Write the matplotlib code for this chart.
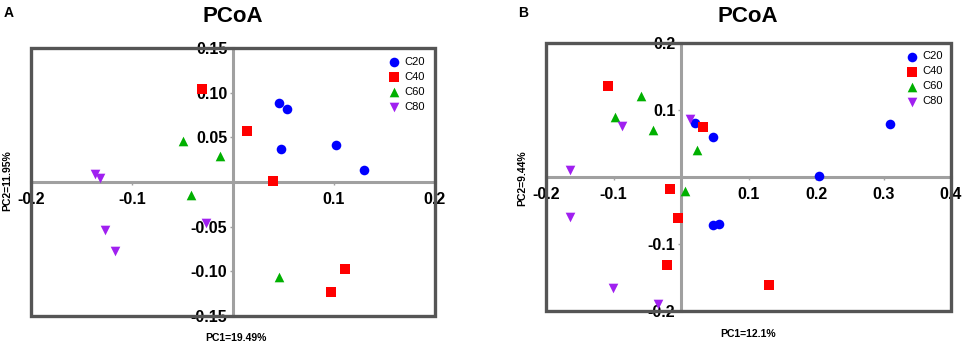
import matplotlib
matplotlib.use("Agg")
import matplotlib.pyplot as plt
from matplotlib.patches import Rectangle

plt.rcParams['font.family'] = ['Liberation Sans', 'DejaVu Sans']
plt.rcParams['axes.unicode_minus'] = False

# Groups and styles
groups = ['C20', 'C40', 'C60', 'C80']
group_colors = ['#0000FF', '#FF0000', '#00B000', '#A020F0']
group_markers = ['o', 's', '^', 'v']

# Panel A (PC1=19.49%, PC2=11.95%)
a_c20_x = [0.046, 0.053, 0.048, 0.102, 0.130]
a_c20_y = [0.088, 0.082, 0.037, 0.041, 0.013]
a_c40_x = [-0.031, 0.014, 0.040, 0.111, 0.097]
a_c40_y = [0.104, 0.057, 0.001, -0.097, -0.123]
a_c60_x = [-0.050, -0.013, -0.042, 0.046]
a_c60_y = [0.046, 0.029, -0.015, -0.106]
a_c80_x = [-0.137, -0.132, -0.027, -0.127, -0.117]
a_c80_y = [0.009, 0.005, -0.046, -0.054, -0.077]
a_xticks = [-0.2, -0.1, 0.1, 0.2]
a_yticks = [0.15, 0.10, 0.05, -0.05, -0.10, -0.15]

# Panel B (PC1=12.1%, PC2=9.44%)
b_c20_x = [0.021, 0.047, 0.310, 0.204, 0.048, 0.057]
b_c20_y = [0.081, 0.060, 0.079, 0.002, -0.072, -0.070]
b_c40_x = [-0.108, 0.033, -0.017, -0.005, -0.021, 0.131]
b_c40_y = [0.136, 0.075, -0.018, -0.061, -0.131, -0.161]
b_c60_x = [-0.060, -0.098, -0.042, 0.024, 0.006]
b_c60_y = [0.121, 0.090, 0.070, 0.040, -0.021]
b_c80_x = [0.014, -0.087, -0.165, -0.164, -0.101, -0.034]
b_c80_y = [0.087, 0.076, 0.010, -0.060, -0.166, -0.190]
b_xticks = [-0.2, -0.1, 0.1, 0.2, 0.3, 0.4]
b_yticks = [0.2, 0.1, -0.1, -0.2]

W, H = 964, 344


def px(x, y):
    # pixel position -> figure fraction
    return x / W, 1 - y / H


def draw_panel(ax, xs, ys, xlim, ylim, xticks, yticks, yfmt, legend_anchor):
    for gx, gy, name, col, mk in zip(xs, ys, groups, group_colors, group_markers):
        ax.scatter(gx, gy, s=48, c=col, marker=mk, label=name,
                   linewidths=0, zorder=3)

    ax.set_xlim(*xlim)
    ax.set_ylim(*ylim)

    # cross through the origin
    for side in ['top', 'right']:
        ax.spines[side].set_visible(False)
    ax.spines['left'].set_position(('data', 0))
    ax.spines['bottom'].set_position(('data', 0))
    for side in ['left', 'bottom']:
        ax.spines[side].set_color('#a0a0a0')
        ax.spines[side].set_linewidth(2.2)

    ax.set_xticks(xticks)
    ax.set_xticklabels(['%g' % t for t in xticks])
    ax.set_yticks(yticks)
    ax.set_yticklabels([yfmt % t for t in yticks])
    ax.tick_params(axis='both', length=2, width=1, color='#a0a0a0',
                   labelsize=11.5, pad=2)
    ax.tick_params(axis='x', pad=5)
    for lab in ax.get_xticklabels() + ax.get_yticklabels():
        lab.set_fontweight('bold')

    # heavy outer frame on top of everything
    ax.add_patch(Rectangle((0, 0), 1, 1, transform=ax.transAxes, fill=False,
                           edgecolor='#555555', linewidth=2.4, zorder=10,
                           clip_on=False))

    ax.legend(loc='upper right', bbox_to_anchor=legend_anchor, frameon=False,
              fontsize=8, handletextpad=0.3, labelspacing=0.45,
              borderaxespad=0, handlelength=1.2)


def main():
    fig = plt.figure(figsize=(W / 100, H / 100), dpi=100)

    # Panel A
    ax_a = fig.add_axes([31 / W, 28 / H, 404 / W, 268 / H])
    draw_panel(ax_a,
               [a_c20_x, a_c40_x, a_c60_x, a_c80_x],
               [a_c20_y, a_c40_y, a_c60_y, a_c80_y],
               (-0.2, 0.2), (-0.15, 0.15), a_xticks, a_yticks, '%.2f',
               (0.985, 0.983))

    # Panel B
    ax_b = fig.add_axes([546 / W, 33 / H, 405 / W, 268 / H])
    draw_panel(ax_b,
               [b_c20_x, b_c40_x, b_c60_x, b_c80_x],
               [b_c20_y, b_c40_y, b_c60_y, b_c80_y],
               (-0.2, 0.4), (-0.2, 0.2), b_xticks, b_yticks, '%g',
               (0.99, 0.985))

    # titles, panel letters, axis labels
    fig.text(*px(233, 16), 'PCoA', ha='center', va='center',
             fontsize=16, fontweight='bold')
    fig.text(*px(748, 16), 'PCoA', ha='center', va='center',
             fontsize=16, fontweight='bold')
    fig.text(*px(9, 13), 'A', ha='center', va='center',
             fontsize=10, fontweight='bold')
    fig.text(*px(523, 13), 'B', ha='center', va='center',
             fontsize=10, fontweight='bold')

    fig.text(*px(236, 338), 'PC1=19.49%', ha='center', va='center',
             fontsize=7.5, fontweight='bold')
    fig.text(*px(7, 181), 'PC2=11.95%', ha='center', va='center',
             fontsize=7.5, fontweight='bold', rotation=90)
    fig.text(*px(748, 334), 'PC1=12.1%', ha='center', va='center',
             fontsize=7.5, fontweight='bold')
    fig.text(*px(522, 178), 'PC2=9.44%', ha='center', va='center',
             fontsize=7.5, fontweight='bold', rotation=90)

    fig.savefig('out.png', dpi=100)


if __name__ == "__main__":
    main()
